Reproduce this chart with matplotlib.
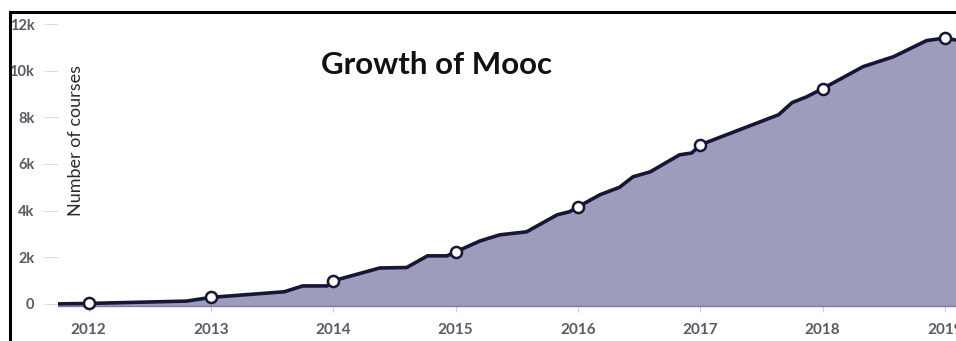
import matplotlib.pyplot as plt
from matplotlib.lines import Line2D

# course counts over time (fractional years)
years = [2011.75, 2012.0, 2012.8, 2013.0, 2013.6, 2013.75, 2013.95, 2014.0,
         2014.38, 2014.6, 2014.77, 2014.93, 2015.0, 2015.2, 2015.36, 2015.58,
         2015.83, 2015.93, 2016.0, 2016.18, 2016.34, 2016.45, 2016.59, 2016.83,
         2016.93, 2017.0, 2017.64, 2017.75, 2017.87, 2018.0, 2018.33, 2018.58,
         2018.85, 2019.0, 2019.1]
courses = [0, 20, 120, 280, 520, 770, 770, 990,
           1540, 1560, 2060, 2060, 2230, 2700, 2960, 3090,
           3820, 3950, 4160, 4680, 5000, 5450, 5660, 6390,
           6470, 6820, 8110, 8630, 8880, 9230, 10170, 10600,
           11290, 11400, 11300]

marker_years = [2012, 2013, 2014, 2015, 2016, 2017, 2018, 2019]
marker_values = [20, 280, 990, 2230, 4160, 6820, 9230, 11400]

yticks = [0, 2000, 4000, 6000, 8000, 10000, 12000]
ytick_labels = ["0", "2k", "4k", "6k", "8k", "10k", "12k"]

W, H = 956, 341
fig = plt.figure(figsize=(W / 100, H / 100), dpi=100)
fig.patch.set_facecolor("white")

ax = fig.add_axes([58 / W, (H - 306) / H, (W - 58) / W, (306 - 24) / H])
ax.set_xlim(2011.75, 2019.09)
ax.set_ylim(-90, 12000)

ax.fill_between(years, courses, -90, color="#9d9dbb", zorder=1)
ax.plot(years, courses, color="#15163a", lw=2.6, zorder=2,
        solid_joinstyle="round")
ax.plot(marker_years, marker_values, "o", ms=8, mfc="white", mec="#15163a",
        mew=1.8, zorder=3, clip_on=False)

for side in ["top", "right", "left"]:
    ax.spines[side].set_visible(False)
ax.spines["bottom"].set_color("#7d7d9a")
ax.spines["bottom"].set_linewidth(1)

ax.set_xticks(marker_years)
ax.set_xticklabels([str(y) for y in marker_years], fontsize=11,
                   fontfamily="Lato", fontweight="bold", color="#5a5a66")
ax.tick_params(axis="x", length=4, color="#cccccc", pad=8)

ax.set_yticks(yticks)
ax.set_yticklabels(ytick_labels, fontsize=10.5, fontfamily="Lato",
                   fontweight="bold", color="#5a5a66")
ax.tick_params(axis="y", length=10, color="#dddddd", pad=7)

ax.text(2013.9, 10250, "Growth of Mooc", fontsize=22.5, fontfamily="Lato",
        fontweight="bold", color="#111111", ha="left", va="center")
ax.text(2011.9, 7000, "Number of courses", rotation=90, fontsize=13,
        fontfamily="Lato", color="#2a2a2a", ha="center", va="center")

# black border along top and left edges
fig.add_artist(Line2D([10 / W, 10 / W], [0, (H - 12) / H], color="black",
                      lw=2.2, transform=fig.transFigure))
fig.add_artist(Line2D([10 / W, 1], [(H - 12) / H, (H - 12) / H],
                      color="black", lw=2.2, transform=fig.transFigure))

fig.savefig("out.png", dpi=100)
